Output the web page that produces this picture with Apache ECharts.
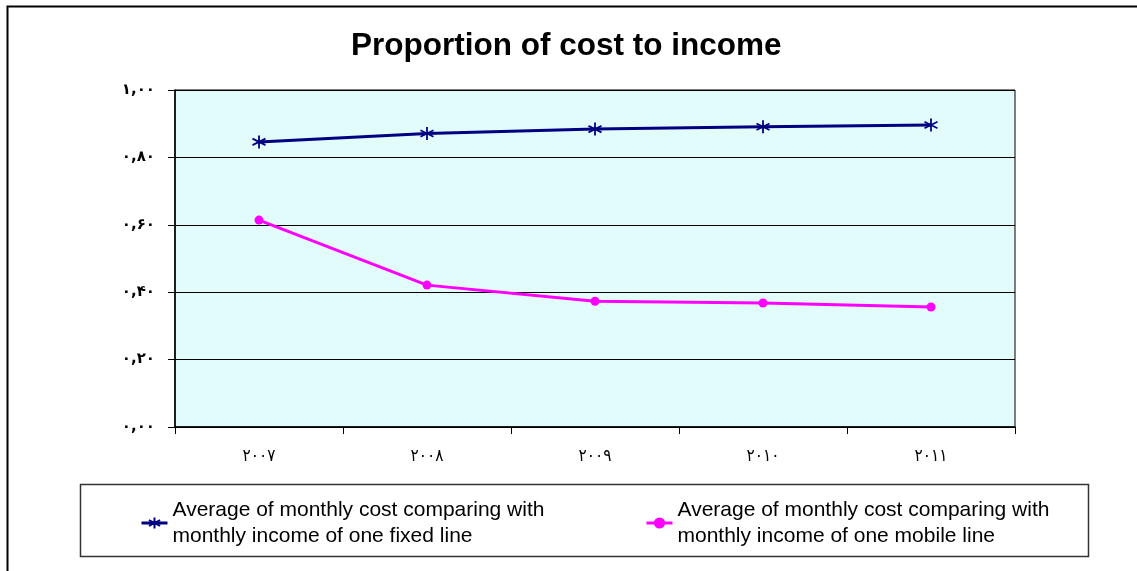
<!DOCTYPE html>
<html>
<head>
<meta charset="utf-8">
<style>
  html, body { margin: 0; padding: 0; background: #fff; }
  #chart { width: 1137px; height: 571px; }
</style>
<script src="https://cdn.jsdelivr.net/npm/echarts@6/dist/echarts.min.js"></script>
</head>
<body>
<div id="chart"></div>
<script>
// Years on the category axis
const years = ['۲۰۰۷', '۲۰۰۸', '۲۰۰۹', '۲۰۱۰', '۲۰۱۱'];
// Value-axis tick labels, from 0.00 up to 1.00 in steps of 0.20
const yTickLabels = ['۰,۰۰', '۰,۲۰', '۰,۴۰', '۰,۶۰', '۰,۸۰', '۱,۰۰'];
// Cost / income ratio per year
const fixedLine = [0.846, 0.871, 0.884, 0.891, 0.896];
const mobileLine = [0.614, 0.421, 0.373, 0.368, 0.356];
const fixedName = 'Average of monthly cost comparing with\nmonthly income of one fixed line';
const mobileName = 'Average of monthly cost comparing with\nmonthly income of one mobile line';

const chart = echarts.init(document.getElementById('chart'), null, { renderer: 'canvas' });

// six-armed asterisk marker: one vertical stroke and two diagonals
const starPath = 'path://M6,0L6,12M0.8,3L11.2,9M0.8,9L11.2,3';

const legendText = {
  fontFamily: 'Liberation Sans, Arial, sans-serif',
  fontSize: 21,
  color: '#000',
  lineHeight: 26,
  padding: [26, 0, 0, 0]
};

chart.setOption({
  animation: false,
  backgroundColor: '#fff',
  title: {
    text: 'Proportion of cost to income',
    left: 346,
    top: 25,
    textStyle: {
      fontFamily: 'Liberation Sans, Arial, sans-serif',
      fontWeight: 'bold',
      fontSize: 31.5,
      color: '#000'
    }
  },
  graphic: [
    { type: 'rect', silent: true, shape: { x: 7.5, y: 6.5, width: 1200, height: 700 },
      style: { fill: 'none', stroke: '#000', lineWidth: 2 } },
    { type: 'rect', silent: true, shape: { x: 80.5, y: 484.5, width: 1008, height: 72 },
      style: { fill: 'none', stroke: '#333', lineWidth: 1.5 } }
  ],
  legend: [
    { data: [fixedName], left: 140, top: 484, padding: 0, itemWidth: 26, itemHeight: 14,
      lineStyle: { width: 3 }, textStyle: legendText },
    { data: [mobileName], left: 645, top: 484, padding: 0, itemWidth: 26, itemHeight: 14,
      lineStyle: { width: 3 }, textStyle: legendText }
  ],
  grid: {
    left: 175, top: 90, width: 840, height: 337,
    show: true, borderColor: '#000', borderWidth: 1,
    backgroundColor: '#e2fcfc'
  },
  xAxis: {
    type: 'category',
    data: years,
    boundaryGap: true,
    axisLine: { lineStyle: { color: '#000', width: 1.5 } },
    axisTick: { show: true, length: 7, lineStyle: { color: '#000' } },
    axisLabel: {
      margin: 21, color: '#000',
      fontFamily: 'DejaVu Sans Condensed, DejaVu Sans, sans-serif', fontSize: 17
    }
  },
  yAxis: {
    type: 'value',
    min: 0, max: 1, interval: 0.2,
    axisLine: { show: true, lineStyle: { color: '#000', width: 1.5 } },
    axisTick: { show: true, length: 7, lineStyle: { color: '#000' } },
    splitLine: { show: true, lineStyle: { color: '#000', width: 1 } },
    axisLabel: {
      margin: 20, color: '#000',
      fontFamily: 'DejaVu Sans, sans-serif', fontSize: 15, fontWeight: 'bold',
      formatter: function (v) { return yTickLabels[Math.round(v / 0.2)]; }
    }
  },
  series: [
    {
      name: fixedName,
      type: 'line',
      data: fixedLine,
      symbol: starPath,
      symbolSize: 13,
      lineStyle: { color: '#000080', width: 3 },
      itemStyle: { color: '#000080', borderColor: '#000080', borderWidth: 1.8 }
    },
    {
      name: mobileName,
      type: 'line',
      data: mobileLine,
      symbol: 'circle',
      symbolSize: 9,
      lineStyle: { color: '#ff00ff', width: 3 },
      itemStyle: { color: '#ff00ff', borderWidth: 0 }
    }
  ]
});
</script>
</body>
</html>
